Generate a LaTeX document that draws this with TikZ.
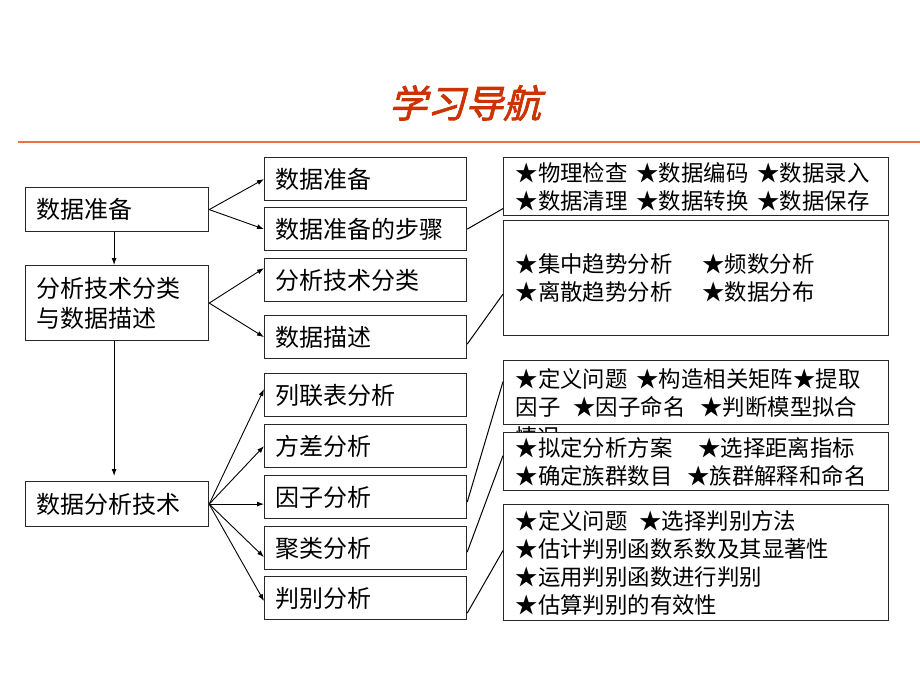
\documentclass[tikz,border=0pt]{standalone}
\usepackage{fontspec}
\setmainfont{Noto Sans CJK SC}
\newfontfamily\titlefont[FakeSlant=0.25,FakeBold=2]{Noto Sans CJK SC}
\usetikzlibrary{arrows.meta}
\definecolor{titlered}{RGB}{204,51,0}
\definecolor{rulecol}{RGB}{240,110,70}
\definecolor{boxline}{RGB}{40,40,40}
\begin{document}
\begin{tikzpicture}[x=1pt,y=-1pt,
  box/.style={draw=boxline, line width=1.2pt, fill=white, inner xsep=11pt, inner ysep=0pt, align=left, anchor=north west, font=\fontsize{24}{30}\selectfont},
  lbox/.style={box, text width=161pt, minimum height=#1},
  mbox/.style={box, text width=180pt, minimum height=43pt},
  rbox/.style={box, inner xsep=12pt, text width=361pt, minimum height=#1, font=\fontsize{22.4}{28}\selectfont},
  arr/.style={-{Latex[length=7pt,width=5pt]}, line width=0.9pt, draw=black},
  lnk/.style={line width=1pt, draw=black}]
\useasboundingbox[fill=white] (0,0) rectangle (920,690);
% title and rule
\node[font=\titlefont\fontsize{38}{40}\selectfont, text=titlered] (title) at (465,103) {学习导航};
\draw[rulecol, line width=2pt] (18,142) -- (920,142);
% left column
\node[lbox=44pt] (l1) at (25,187) {数据准备};
\node[lbox=75pt] (l2) at (25,265) {分析技术分类\\与数据描述};
\node[lbox=45pt] (l3) at (25,481) {数据分析技术};
% middle column
\node[mbox] (m1) at (264,157) {数据准备};
\node[mbox] (m2) at (264,207) {数据准备的步骤};
\node[mbox] (m3) at (264,258) {分析技术分类};
\node[mbox] (m4) at (264,315) {数据描述};
\node[mbox] (m5) at (264,373) {列联表分析};
\node[mbox] (m6) at (264,424) {方差分析};
\node[mbox] (m7) at (264,475) {因子分析};
\node[mbox] (m8) at (264,526) {聚类分析};
\node[mbox] (m9) at (264,576) {判别分析};
% right column
\node[rbox=58pt] (rA) at (503,157) {★物理检查\hspace{9pt}★数据编码\hspace{9pt}★数据录入\\★数据清理\hspace{9pt}★数据转换\hspace{9pt}★数据保存};
\node[rbox=115pt] (rB) at (503,220) {★集中趋势分析\hspace{30pt}★频数分析\\★离散趋势分析\hspace{30pt}★数据分布};
\node[rbox=64pt] (rC) at (503,360) {★定义问题\hspace{9pt}★构造相关矩阵★提取\\因子\hspace{13pt}★因子命名\hspace{15pt}★判断模型拟合};
\node[font=\fontsize{22.4}{28}\selectfont, anchor=west, inner sep=0pt] (cq) at (515,437) {情况};
\node[rbox=58pt] (rD) at (503,432) {★拟定分析方案\hspace{26pt}★选择距离指标\\★确定族群数目\hspace{15pt}★族群解释和命名};
\node[rbox=116pt] (rE) at (503,504) {★定义问题\hspace{12pt}★选择判别方法\\★估计判别函数系数及其显著性\\★运用判别函数进行判别\\★估算判别的有效性};
% arrows
\draw[arr] (l1.east) -- (m1.west);
\draw[arr] (l1.east) -- (m2.west);
\draw[arr] ([xshift=-3pt]l1.south) -- ([xshift=-3pt]l2.north);
\draw[arr] (l2.east) -- ([yshift=12pt]m3.west);
\draw[arr] (l2.east) -- (m4.west);
\draw[arr] ([xshift=-3pt]l2.south) -- ([xshift=-3pt,yshift=5pt]l3.north);
\draw[arr] (l3.east) -- ([yshift=6pt]m5.west);
\draw[arr] (l3.east) -- (m6.west);
\draw[arr] (l3.east) -- (l3.east -| m7.west);
\draw[arr] (l3.east) -- ([yshift=-9pt]m8.west);
\draw[arr] (l3.east) -- ([yshift=-3pt]m9.west);
% links
\draw[lnk] (m2.east) -- ([yshift=-22pt]rA.west);
\draw[lnk] ([yshift=-7pt]m4.east) -- ([yshift=-16pt]rB.west);
\draw[lnk] ([yshift=-5pt]m7.east) -- ([yshift=11pt]rC.west);
\draw[lnk] ([yshift=-4pt]m8.east) -- ([yshift=6pt]rD.west);
\draw[lnk] ([yshift=-15pt]m9.east) -- ([yshift=12pt]rE.west);
\end{tikzpicture}
\end{document}
